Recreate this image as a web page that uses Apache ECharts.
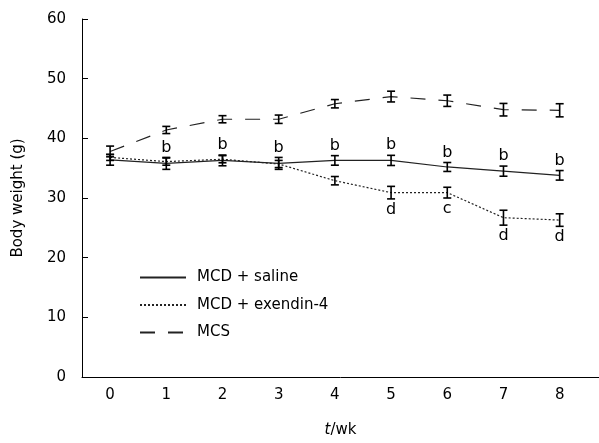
<!DOCTYPE html>
<html>
<head>
<meta charset="utf-8">
<script src="https://cdn.jsdelivr.net/npm/echarts@6/dist/echarts.min.js"></script>
<style>html,body{margin:0;padding:0;background:#fff;}#c{width:599px;height:443px;}</style>
</head>
<body>
<div id="c"></div>
<script>
var weeks = [0, 1, 2, 3, 4, 5, 6, 7, 8];
var saline = [36.4, 35.8, 36.3, 35.8, 36.3, 36.3, 35.2, 34.5, 33.8];
var salineErr = [0.9, 1.0, 0.9, 1.0, 0.8, 0.85, 0.75, 0.85, 0.8];
var exendin = [36.8, 36.1, 36.5, 35.7, 32.9, 30.9, 30.9, 26.7, 26.3];
var exendinErr = [0.5, 0.6, 0.6, 0.6, 0.7, 1.05, 0.9, 1.25, 1.05];
var mcs = [37.8, 41.4, 43.2, 43.2, 45.8, 47.0, 46.3, 44.8, 44.7];
var mcsErr = [0.9, 0.6, 0.6, 0.7, 0.7, 0.9, 0.95, 1.05, 1.1];
var salineLetters = ['', 'b', 'b', 'b', 'b', 'b', 'b', 'b', 'b'];
var exendinLetters = ['', '', '', '', '', 'd', 'c', 'd', 'd'];
var yTicks = [0, 10, 20, 30, 40, 50, 60];

var FONT = 'DejaVu Sans';
var INK = '#000';

function pairs(vals) { return weeks.map(function (w, i) { return [w, vals[i]]; }); }
function errData(vals, errs) { return weeks.map(function (w, i) { return [w, vals[i] - errs[i], vals[i] + errs[i]]; }); }

function errSeries(vals, errs) {
  return {
    type: 'custom',
    data: errData(vals, errs),
    z: 5,
    renderItem: function (params, api) {
      var lo = api.coord([api.value(0), api.value(1)]);
      var hi = api.coord([api.value(0), api.value(2)]);
      var h = 4;
      var st = { stroke: INK, lineWidth: 1.6 };
      return {
        type: 'group',
        children: [
          { type: 'line', shape: { x1: lo[0], y1: lo[1], x2: hi[0], y2: hi[1] }, style: st },
          { type: 'line', shape: { x1: lo[0] - h, y1: lo[1], x2: lo[0] + h, y2: lo[1] }, style: st },
          { type: 'line', shape: { x1: hi[0] - h, y1: hi[1], x2: hi[0] + h, y2: hi[1] }, style: st }
        ]
      };
    }
  };
}

function letterSeries(vals, errs, letters, above) {
  return {
    type: 'custom',
    data: weeks.map(function (w, i) { return [w, above ? vals[i] + errs[i] : vals[i] - errs[i], i]; }),
    z: 6,
    renderItem: function (params, api) {
      var idx = api.value(2);
      var t = letters[idx];
      if (!t) return null;
      var p = api.coord([api.value(0), api.value(1)]);
      return {
        type: 'text',
        style: {
          x: p[0], y: above ? p[1] - 2 : p[1] + 3,
          text: t, fill: INK,
          font: '16px "' + FONT + '"',
          align: 'center', verticalAlign: above ? 'bottom' : 'top'
        }
      };
    }
  };
}

var chart = echarts.init(document.getElementById('c'));
chart.setOption({
  animation: false,
  backgroundColor: '#fff',
  textStyle: { fontFamily: FONT },
  grid: { left: 82, right: 0, top: 19, bottom: 66 },
  legend: {
    orient: 'vertical',
    left: 134, top: 265,
    itemWidth: 46, itemHeight: 14, itemGap: 12.5,
    itemStyle: { opacity: 0 },
    textStyle: { fontFamily: FONT, fontSize: 15, color: INK, padding: [0, 0, 0, 6] },
    data: ['MCD + saline', 'MCD + exendin-4', 'MCS']
  },
  xAxis: {
    type: 'value', min: -0.5, max: 8.7,
    name: '{i|t}/wk', nameLocation: 'middle', nameGap: 46,
    nameTextStyle: { fontFamily: FONT, fontSize: 15, color: INK, rich: { i: { fontStyle: 'italic', fontFamily: FONT, fontSize: 15, color: INK } } },
    axisLine: { onZero: false, lineStyle: { color: INK, width: 1 } },
    axisTick: { show: false },
    splitLine: { show: false },
    axisLabel: { customValues: weeks, fontFamily: FONT, fontSize: 15, color: INK, margin: 11 }
  },
  yAxis: {
    type: 'value', min: 0, max: 60, interval: 10,
    name: 'Body weight (g)', nameLocation: 'middle', nameGap: 56,
    nameTextStyle: { fontFamily: FONT, fontSize: 15, color: INK },
    axisLine: { show: true, onZero: false, lineStyle: { color: INK, width: 1 } },
    axisTick: { show: true, inside: true, length: 6, lineStyle: { color: INK } },
    splitLine: { show: false },
    axisLabel: { fontFamily: FONT, fontSize: 15, color: INK, margin: 16 }
  },
  series: [
    { name: 'MCD + saline', type: 'line', data: pairs(saline), symbol: 'none', z: 4,
      lineStyle: { color: '#222', width: 1.2, type: 'solid' }, itemStyle: { color: '#222' } },
    { name: 'MCD + exendin-4', type: 'line', data: pairs(exendin), symbol: 'none', z: 4,
      lineStyle: { color: '#222', width: 1.2, type: [2, 2] }, itemStyle: { color: '#222' } },
    { name: 'MCS', type: 'line', data: pairs(mcs), symbol: 'none', z: 4,
      lineStyle: { color: '#222', width: 1.2, type: [15, 13] }, itemStyle: { color: '#222' } },
    errSeries(saline, salineErr),
    errSeries(exendin, exendinErr),
    errSeries(mcs, mcsErr),
    letterSeries(saline, salineErr, salineLetters, true),
    letterSeries(exendin, exendinErr, exendinLetters, false)
  ]
});
</script>
</body>
</html>
